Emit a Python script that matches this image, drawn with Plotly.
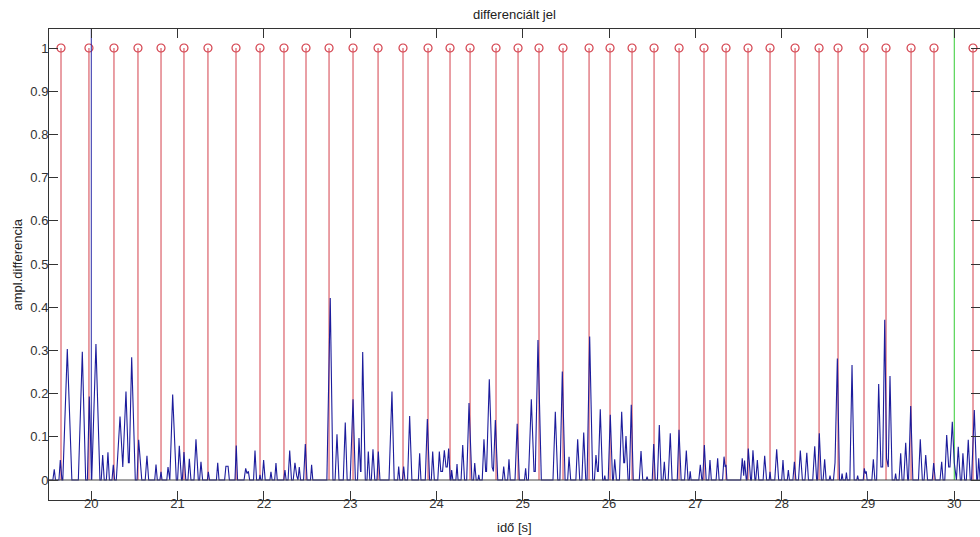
import plotly.graph_objects as go

# Detected beat instants (stem positions) and their unit amplitude
stem_t = [19.649, 19.973, 20.263, 20.541, 20.808, 21.074, 21.352, 21.677, 21.955,
          22.233, 22.488, 22.755, 23.033, 23.323, 23.612, 23.902, 24.157, 24.389,
          24.690, 24.945, 25.188, 25.466, 25.768, 26.011, 26.266, 26.521, 26.811,
          27.100, 27.355, 27.610, 27.865, 28.155, 28.433, 28.653, 28.954, 29.209,
          29.499, 29.765, 30.217]
stem_v = [1.0] * len(stem_t)

# Differentiated signal, (time [s], amplitude) vertices
signal = [
    (19.51, 0), (19.555, 0), (19.571, 0.025), (19.585, 0),
    (19.625, 0), (19.641, 0.046), (19.66, 0),
    (19.67, 0), (19.722, 0.303), (19.775, 0),
    (19.85, 0), (19.896, 0.297), (19.935, 0),
    (19.955, 0), (19.977, 0.193), (19.995, 0.02),
    (20.005, 0), (20.054, 0.315), (20.1, 0),
    (20.115, 0), (20.132, 0.058), (20.15, 0),
    (20.175, 0), (20.193, 0.064), (20.21, 0),
    (20.24, 0), (20.255, 0.035), (20.27, 0),
    (20.29, 0), (20.333, 0.147), (20.36, 0.04),
    (20.365, 0.03), (20.402, 0.205), (20.43, 0.04),
    (20.44, 0.04), (20.468, 0.284), (20.51, 0),
    (20.53, 0), (20.549, 0.093), (20.585, 0),
    (20.625, 0), (20.645, 0.056), (20.665, 0),
    (20.735, 0), (20.750, 0.036), (20.765, 0),
    (20.795, 0), (20.808, 0.019), (20.82, 0),
    (20.875, 0), (20.889, 0.030), (20.905, 0),
    (20.91, 0), (20.943, 0.198), (20.985, 0),
    (21.0, 0), (21.02, 0.079), (21.045, 0),
    (21.055, 0), (21.074, 0.065), (21.095, 0),
    (21.12, 0), (21.136, 0.049), (21.155, 0),
    (21.19, 0), (21.213, 0.094), (21.24, 0),
    (21.255, 0), (21.271, 0.042), (21.29, 0),
    (21.345, 0), (21.356, 0.019), (21.37, 0),
    (21.45, 0), (21.465, 0.040), (21.48, 0),
    (21.545, 0), (21.56, 0.032), (21.585, 0.032), (21.6, 0),
    (21.665, 0), (21.68, 0.080), (21.695, 0),
    (21.77, 0), (21.789, 0.027), (21.805, 0.015), (21.82, 0.020), (21.835, 0),
    (21.88, 0), (21.897, 0.068), (21.915, 0),
    (21.945, 0), (21.955, 0.012), (21.965, 0),
    (21.98, 0), (21.997, 0.046), (22.015, 0),
    (22.07, 0), (22.082, 0.019), (22.095, 0),
    (22.125, 0), (22.14, 0.039), (22.155, 0),
    (22.23, 0), (22.244, 0.023), (22.258, 0),
    (22.28, 0), (22.299, 0.068), (22.32, 0),
    (22.34, 0), (22.36, 0.040), (22.38, 0.01),
    (22.395, 0), (22.41, 0.030), (22.425, 0),
    (22.46, 0), (22.48, 0.083), (22.5, 0),
    (22.54, 0), (22.553, 0.035), (22.567, 0),
    (22.73, 0), (22.769, 0.421), (22.8, 0),
    (22.825, 0), (22.847, 0.106), (22.87, 0),
    (22.92, 0), (22.943, 0.133), (22.965, 0),
    (23.0, 0), (23.033, 0.187), (23.06, 0),
    (23.085, 0), (23.102, 0.097), (23.12, 0.02),
    (23.125, 0.02), (23.145, 0.296), (23.175, 0),
    (23.195, 0), (23.21, 0.066), (23.228, 0),
    (23.245, 0), (23.264, 0.071), (23.285, 0),
    (23.31, 0), (23.326, 0.066), (23.345, 0),
    (23.45, 0), (23.484, 0.205), (23.51, 0),
    (23.55, 0), (23.562, 0.031), (23.575, 0),
    (23.605, 0), (23.62, 0.031), (23.635, 0),
    (23.665, 0), (23.689, 0.148), (23.715, 0),
    (23.79, 0), (23.805, 0.062), (23.82, 0),
    (23.87, 0), (23.894, 0.141), (23.92, 0),
    (23.94, 0), (23.956, 0.066), (23.975, 0),
    (24.015, 0), (24.033, 0.066), (24.05, 0.02),
    (24.07, 0.02), (24.091, 0.069), (24.11, 0.03),
    (24.125, 0.03), (24.141, 0.073), (24.16, 0),
    (24.168, 0), (24.176, 0.023), (24.19, 0),
    (24.225, 0), (24.238, 0.037), (24.25, 0),
    (24.285, 0), (24.304, 0.081), (24.325, 0),
    (24.35, 0), (24.377, 0.178), (24.41, 0),
    (24.43, 0), (24.443, 0.039), (24.46, 0),
    (24.48, 0), (24.49, 0.012), (24.5, 0),
    (24.53, 0), (24.55, 0.094), (24.57, 0.02),
    (24.58, 0.02), (24.612, 0.233), (24.645, 0.03),
    (24.66, 0.02), (24.682, 0.139), (24.71, 0),
    (24.765, 0), (24.779, 0.031), (24.795, 0),
    (24.825, 0), (24.84, 0.048), (24.855, 0),
    (24.91, 0), (24.935, 0.130), (24.96, 0),
    (25.02, 0), (25.033, 0.027), (25.045, 0),
    (25.065, 0), (25.099, 0.187), (25.13, 0.02),
    (25.145, 0.02), (25.176, 0.324), (25.215, 0),
    (25.35, 0), (25.377, 0.158), (25.405, 0),
    (25.43, 0), (25.458, 0.251), (25.49, 0),
    (25.52, 0), (25.536, 0.054), (25.555, 0),
    (25.615, 0), (25.636, 0.094), (25.66, 0),
    (25.685, 0), (25.706, 0.110), (25.73, 0),
    (25.745, 0), (25.775, 0.332), (25.81, 0),
    (25.83, 0), (25.848, 0.058), (25.865, 0.02),
    (25.875, 0.02), (25.898, 0.164), (25.925, 0),
    (25.942, 0), (25.95, 0.010), (25.958, 0),
    (25.99, 0), (26.014, 0.151), (26.04, 0),
    (26.05, 0), (26.065, 0.048), (26.085, 0),
    (26.12, 0), (26.146, 0.158), (26.17, 0.04),
    (26.18, 0.04), (26.196, 0.102), (26.22, 0),
    (26.235, 0), (26.257, 0.174), (26.28, 0),
    (26.35, 0), (26.37, 0.067), (26.39, 0),
    (26.43, 0), (26.44, 0.008), (26.45, 0),
    (26.5, 0), (26.517, 0.083), (26.535, 0),
    (26.56, 0), (26.582, 0.127), (26.605, 0),
    (26.625, 0), (26.64, 0.042), (26.655, 0),
    (26.685, 0), (26.709, 0.108), (26.73, 0),
    (26.79, 0), (26.81, 0.116), (26.835, 0),
    (26.875, 0), (26.895, 0.068), (26.915, 0),
    (26.93, 0), (26.94, 0.020), (26.95, 0),
    (27.04, 0), (27.057, 0.035), (27.075, 0),
    (27.085, 0), (27.104, 0.081), (27.125, 0),
    (27.155, 0), (27.169, 0.046), (27.185, 0),
    (27.24, 0), (27.258, 0.050), (27.275, 0),
    (27.315, 0), (27.332, 0.054), (27.345, 0.03),
    (27.355, 0.035), (27.365, 0),
    (27.525, 0), (27.543, 0.050), (27.56, 0.01), (27.57, 0.045), (27.59, 0),
    (27.598, 0), (27.613, 0.073), (27.64, 0),
    (27.65, 0), (27.667, 0.069), (27.69, 0),
    (27.7, 0), (27.718, 0.046), (27.735, 0),
    (27.785, 0), (27.803, 0.056), (27.825, 0),
    (27.855, 0), (27.865, 0.019), (27.875, 0),
    (27.92, 0), (27.942, 0.071), (27.965, 0),
    (28.0, 0), (28.015, 0.046), (28.03, 0),
    (28.065, 0), (28.077, 0.023), (28.09, 0),
    (28.13, 0), (28.147, 0.042), (28.165, 0),
    (28.195, 0), (28.216, 0.068), (28.24, 0),
    (28.27, 0), (28.291, 0.063), (28.31, 0),
    (28.36, 0), (28.383, 0.078), (28.405, 0),
    (28.415, 0), (28.436, 0.108), (28.46, 0),
    (28.48, 0), (28.498, 0.048), (28.515, 0),
    (28.55, 0), (28.56, 0.010), (28.57, 0),
    (28.6, 0), (28.618, 0.040), (28.625, 0.10), (28.645, 0.281), (28.67, 0),
    (28.69, 0), (28.7, 0.015), (28.71, 0),
    (28.74, 0), (28.75, 0.017), (28.76, 0),
    (28.79, 0), (28.815, 0.266), (28.84, 0),
    (28.87, 0), (28.88, 0.010), (28.89, 0),
    (28.945, 0), (28.957, 0.027), (28.97, 0.015), (28.98, 0.020), (28.99, 0),
    (29.045, 0), (29.062, 0.048), (29.08, 0),
    (29.1, 0), (29.124, 0.222), (29.15, 0.03),
    (29.17, 0.03), (29.194, 0.371), (29.215, 0.05),
    (29.235, 0.03), (29.255, 0.241), (29.28, 0),
    (29.31, 0), (29.32, 0.015), (29.33, 0),
    (29.36, 0), (29.379, 0.062), (29.395, 0),
    (29.415, 0), (29.437, 0.086), (29.46, 0),
    (29.47, 0), (29.495, 0.171), (29.52, 0),
    (29.585, 0), (29.606, 0.094), (29.63, 0),
    (29.65, 0), (29.669, 0.058), (29.69, 0),
    (29.745, 0), (29.761, 0.039), (29.78, 0),
    (29.835, 0), (29.854, 0.042), (29.87, 0),
    (29.89, 0), (29.912, 0.104), (29.935, 0.03),
    (29.95, 0.03), (29.977, 0.135), (30.0, 0.04),
    (30.025, 0), (30.046, 0.077), (30.07, 0),
    (30.085, 0), (30.1, 0.062), (30.12, 0),
    (30.14, 0), (30.162, 0.093), (30.185, 0),
    (30.2, 0), (30.232, 0.162), (30.26, 0),
    (30.27, 0), (30.283, 0.050), (30.3, 0),
]
sig_t = [p[0] for p in signal]
sig_v = [p[1] for p in signal]

# Analysis window borders
window_t = [20.0, 30.0]
window_colors = ["#2a2aa8", "#33cc33"]

x_ticks = list(range(20, 31))
y_ticks = [0, 0.1, 0.2, 0.3, 0.4, 0.5, 0.6, 0.7, 0.8, 0.9, 1]
y_tick_text = ["0", "0.1", "0.2", "0.3", "0.4", "0.5", "0.6", "0.7", "0.8", "0.9", "1"]

x_range = [19.51, 30.298]
y_range = [-0.0463, 1.044]

FONT = "Liberation Sans, Arial, sans-serif"
STEM_COLOR = "#d4404c"
AXIS_COLOR = "#333333"

fig = go.Figure()

# stem lines
stem_x, stem_y = [], []
for t, v in zip(stem_t, stem_v):
    stem_x += [t, t, None]
    stem_y += [0, v, None]
fig.add_trace(go.Scatter(x=stem_x, y=stem_y, mode="lines",
                         line=dict(color=STEM_COLOR, width=1),
                         hoverinfo="skip", showlegend=False))
fig.add_trace(go.Scatter(x=stem_t, y=stem_v, mode="markers",
                         marker=dict(symbol="circle-open", size=8,
                                     color=STEM_COLOR, line=dict(width=1.2)),
                         showlegend=False))

# window borders
for t, c in zip(window_t, window_colors):
    fig.add_trace(go.Scatter(x=[t, t], y=[0, 2], mode="lines",
                             line=dict(color=c, width=1),
                             hoverinfo="skip", showlegend=False))

# signal
fig.add_trace(go.Scatter(x=sig_t, y=sig_v, mode="lines",
                         line=dict(color="#1c1c9c", width=1.1),
                         showlegend=False))

# top and right tick marks (no frame line on the right)
fig.add_trace(go.Scatter(x=[None], y=[None], xaxis="x2", yaxis="y2",
                         showlegend=False, hoverinfo="skip"))

# stem baseline
fig.add_shape(type="line", xref="paper", x0=0, x1=1, yref="y", y0=0, y1=0,
              line=dict(color="#444444", width=1))

fig.update_layout(
    width=980, height=537,
    margin=dict(l=49, r=0, t=29, b=37, pad=0),
    paper_bgcolor="white", plot_bgcolor="white",
    font=dict(family=FONT, size=13, color="#222222"),
    xaxis=dict(range=x_range, tickvals=x_ticks, ticks="inside", ticklen=9,
               tickcolor=AXIS_COLOR, showline=True, linecolor=AXIS_COLOR,
               linewidth=1, mirror=True, showgrid=False, zeroline=False,
               ticklabelstandoff=-9,
               tickfont=dict(size=13, color="#333333")),
    xaxis2=dict(range=x_range, tickvals=x_ticks, overlaying="x", side="top",
                ticks="inside", ticklen=9, tickcolor=AXIS_COLOR, showline=False,
                showticklabels=False, showgrid=False, zeroline=False),
    yaxis=dict(range=y_range, tickvals=y_ticks, ticktext=y_tick_text,
               ticks="inside", ticklen=9, tickcolor=AXIS_COLOR, showline=True,
               linecolor=AXIS_COLOR, linewidth=1, mirror=False, showgrid=False,
               zeroline=False, ticklabelstandoff=-3,
               tickfont=dict(size=13, color="#333333")),
    yaxis2=dict(range=y_range, tickvals=y_ticks, overlaying="y", side="right",
                ticks="inside", ticklen=9, tickcolor=AXIS_COLOR, showline=False,
                showticklabels=False, showgrid=False, zeroline=False),
    annotations=[
        dict(text="differenciált jel", xref="paper", yref="paper", x=0.5,
             y=1.0318, xanchor="center", yanchor="middle", showarrow=False,
             font=dict(size=13, color="#222222")),
        dict(text="idő [s]", xref="paper", yref="paper", x=0.5, y=-0.0594,
             xanchor="center", yanchor="middle", showarrow=False,
             font=dict(size=13, color="#222222")),
        dict(text="ampl.differencia", xref="paper", yref="paper", x=-0.0333,
             y=0.5, xanchor="center", yanchor="middle", textangle=-90,
             showarrow=False, font=dict(size=13, color="#222222")),
    ],
)

fig.write_html("out.html")
